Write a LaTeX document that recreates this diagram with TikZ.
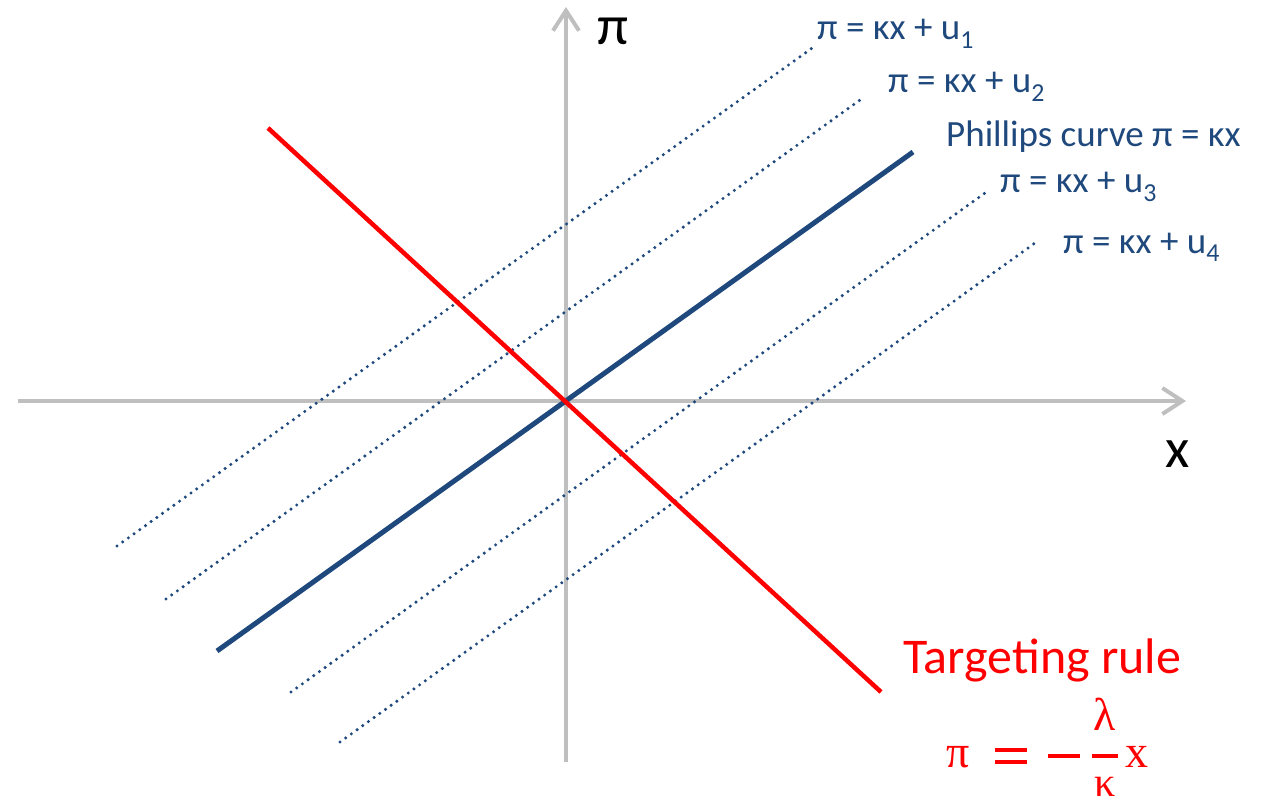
\documentclass[tikz,border=0pt]{standalone}
\usepackage{fontspec}
\setmainfont{Carlito}
\newfontfamily\mathserif{Liberation Serif}
\usetikzlibrary{arrows.meta}
\definecolor{axisgray}{RGB}{191,191,191}
\definecolor{pcblue}{RGB}{31,73,125}
\tikzset{
  axisline/.style={draw=axisgray, line width=4pt, -{Straight Barb[length=20pt,width=26pt,line width=4pt]}},
  pcline/.style={draw=pcblue, line width=5pt},
  ruleline/.style={draw=red, line width=4.5pt},
  shockline/.style={draw=pcblue, line width=3.4pt, line cap=round, dash pattern=on 0pt off 7pt},
  shocklabel/.style={text=pcblue, font=\fontsize{37}{40}\selectfont, anchor=base west, inner sep=0pt},
  axislabel/.style={text=black, font=\fontsize{56}{60}\selectfont, anchor=base west, inner sep=0pt},
  rulelabel/.style={text=red, font=\fontsize{50}{54}\selectfont, anchor=base west, inner sep=0pt},
  formula/.style={text=red, font=\mathserif\fontsize{46}{50}\selectfont, inner sep=0pt},
  formbar/.style={draw=red, line width=3.5pt},
}
\begin{document}
\begin{tikzpicture}[x=1pt,y=-1pt]
\useasboundingbox (0,0) rectangle (1273,805);
% axes
\coordinate (xs) at (18,401);
\coordinate (xe) at (1186,401);
\coordinate (ys) at (566,762);
\coordinate (ye) at (566,7);
\draw[axisline] (xs) -- (xe);
\draw[axisline] (ys) -- (ye);
\node[axislabel] (pilab) at (597,45) {π};
\node[axislabel] (xlab) at (1165,467) {x};
% shock lines
\coordinate (a1) at (117,546); \coordinate (b1) at (815,46);
\coordinate (a2) at (166,599); \coordinate (b2) at (860,100);
\coordinate (a3) at (291,692); \coordinate (b3) at (985,193);
\coordinate (a4) at (340,742); \coordinate (b4) at (1035,243);
\draw[shockline] (a1) -- (b1);
\draw[shockline] (a2) -- (b2);
\draw[shockline] (a3) -- (b3);
\draw[shockline] (a4) -- (b4);
% Phillips curve
\coordinate (pa) at (217,651); \coordinate (pb) at (913,152);
\draw[pcline] (pa) -- (pb);
% targeting rule
\coordinate (ra) at (268,128); \coordinate (rb) at (881,692);
\draw[ruleline] (ra) -- (rb);
% labels
\node[shocklabel] (l1) at (817,40) {π = κx + u\textsubscript{1}};
\node[shocklabel] (l2) at (888,93) {π = κx + u\textsubscript{2}};
\node[shocklabel] (lp) at (946,147) {Phillips curve π = κx};
\node[shocklabel] (l3) at (1000,193) {π = κx + u\textsubscript{3}};
\node[shocklabel] (l4) at (1063,253) {π = κx + u\textsubscript{4}};
\node[rulelabel] (tr) at (903,673) {Targeting rule};
% formula
\node[formula, anchor=base west] (fpi) at (946,767) {π};
\coordinate (eq1a) at (995,750); \coordinate (eq1b) at (1027,750);
\coordinate (eq2a) at (995,762); \coordinate (eq2b) at (1027,762);
\draw[formbar] (eq1a) -- (eq1b);
\draw[formbar] (eq2a) -- (eq2b);
\coordinate (ma) at (1048,756); \coordinate (mb) at (1080,756);
\draw[formbar] (ma) -- (mb);
\coordinate (fa) at (1092,756); \coordinate (fb) at (1118,756);
\draw[formbar] (fa) -- (fb);
\node[formula, anchor=base] (flam) at (1105,730) {λ};
\node[formula, anchor=base, font=\mathserif\fontsize{42}{46}\selectfont] (fkap) at (1105,796) {κ};
\node[formula, anchor=base west] (fx) at (1125,767) {x};
\end{tikzpicture}
\end{document}
